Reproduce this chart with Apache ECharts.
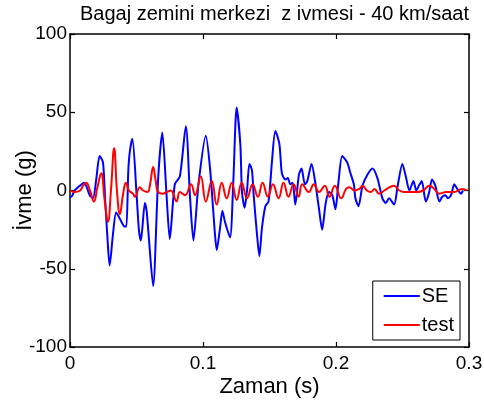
<!DOCTYPE html>
<html>
<head>
<meta charset="utf-8">
<script src="https://cdn.jsdelivr.net/npm/echarts@6/dist/echarts.min.js"></script>
<style>
  html, body { margin: 0; padding: 0; background: #fff; }
  #chart { width: 484px; height: 403px; }
</style>
</head>
<body>
<div id="chart"></div>
<script>
// Trunk-floor centre vertical acceleration, 40 km/h run: simulation (SE) vs. measurement (test)
const seTime = [0, 0.0010, 0.0035, 0.0073, 0.0105, 0.0122, 0.0148, 0.0173, 0.0197, 0.0223,
  0.0248, 0.0265, 0.0280, 0.0298, 0.0323, 0.0347, 0.0375, 0.0411, 0.0424, 0.0438,
  0.0450, 0.0469, 0.0501, 0.0518, 0.0533, 0.0563, 0.0576, 0.0588, 0.0625, 0.0663,
  0.0694, 0.0726, 0.0750, 0.0788, 0.0826, 0.0871, 0.0903, 0.0928, 0.0966, 0.1021,
  0.1053, 0.1090, 0.1103, 0.1128, 0.1146, 0.1165, 0.1203, 0.1228, 0.1253, 0.1281,
  0.1293, 0.1313, 0.1331, 0.1349, 0.1368, 0.1381, 0.1406, 0.1424, 0.1443, 0.1469,
  0.1493, 0.1518, 0.1544, 0.1574, 0.1593, 0.1619, 0.1638, 0.1656, 0.1674, 0.1694,
  0.1721, 0.1741, 0.1766, 0.1784, 0.1816, 0.1846, 0.1871, 0.1896, 0.1921, 0.1946,
  0.1972, 0.1996, 0.2017, 0.2047, 0.2084, 0.2109, 0.2134, 0.2146, 0.2169, 0.2199,
  0.2236, 0.2274, 0.2311, 0.2349, 0.2374, 0.2399, 0.2437, 0.2462, 0.2499, 0.2525,
  0.2552, 0.2582, 0.2604, 0.2623, 0.2645, 0.2675, 0.2698, 0.2722, 0.2747, 0.2777,
  0.2799, 0.2822, 0.2841, 0.2865, 0.2889, 0.2912, 0.2940, 0.2955];
const seValues = [-4, -4, 0, 3, 5, 3, -3, -5, 7, 22,
  18, -7, -28, -48, -28, -14, -18, -23, -23, 12,
  25, 33, -3, -25, -32, -8, -13, -25, -61, 8,
  37, -3, -31, 4, 9, 41, -5, -32, 4, 35,
  14, -28, -38, -24, -13, -20, -30, 6, 53, 29,
  -1, -11, 0, 17, 13, -3, -28, -42, -24, -10,
  -7, 18, 38, 30, 11, 7, 8, 4, 5, -9,
  10, 14, 4, 6, 17, 4, -11, -25, -9, -1,
  -3, -12, 4, 22, 18, 11, 4, -5, -10, 3,
  10, 14, 8, -5, -8, -5, -9, 2, 17, 9,
  0, 6, 0, 3, 6, -7, -2, 7, 3, -7,
  -4, -3, -5, -3, 4, 1, -2, 0];

const testTime = [0, 0.0035, 0.0075, 0.0098, 0.0122, 0.0150, 0.0180, 0.0206, 0.0235, 0.0259,
  0.0285, 0.0308, 0.0332, 0.0353, 0.0375, 0.0398, 0.0420, 0.0443, 0.0473, 0.0488,
  0.0525, 0.0550, 0.0583, 0.0604, 0.0625, 0.0645, 0.0663, 0.0698, 0.0726, 0.0758,
  0.0801, 0.0826, 0.0865, 0.0910, 0.0940, 0.0983, 0.1021, 0.1066, 0.1103, 0.1141,
  0.1178, 0.1216, 0.1253, 0.1291, 0.1331, 0.1373, 0.1413, 0.1448, 0.1488, 0.1526,
  0.1568, 0.1606, 0.1643, 0.1681, 0.1719, 0.1746, 0.1796, 0.1833, 0.1872, 0.1916,
  0.1951, 0.1991, 0.2039, 0.2076, 0.2101, 0.2139, 0.2176, 0.2199, 0.2233, 0.2261,
  0.2289, 0.2324, 0.2364, 0.2401, 0.2437, 0.2476, 0.2514, 0.2567, 0.2611, 0.2656,
  0.2702, 0.2739, 0.2777, 0.2829, 0.2889, 0.2949, 0.2987];
const testValues = [0, -1, 0, 3, 5, 0, -7, 2, 11, -5,
  -20, 0, 27, 0, -15, -3, 5, 0, -2, -4,
  2, 0, -1, 5, 15, 6, -1, -2, -1, 0,
  -7, -1, -3, 4, -3, 9, -7, 6, -9, 5,
  -5, 5, -6, 5, -5, 4, -4, 5, -4, 4,
  -5, 5, -4, 4, -4, 4, -1, 4, -1, 3,
  -4, 3, -5, 1, 2, 0, 1, 3, 0, -1,
  1, -2, 0, 2, 3, 0, -1, -1, -1, 0,
  3, 1, -2, -1, -1, 1, 0];

const xTickLabels = ['0', '0.1', '0.2', '0.3'];
const yTickLabels = ['-100', '-50', '0', '50', '100'];
const seriesNames = ['SE', 'test'];

const FONT = 'Liberation Sans, Arial, sans-serif';
const pairs = (t, v) => t.map((x, i) => [x, v[i]]);

const frameLine = { show: true, onZero: false, lineStyle: { color: '#000', width: 1.5 } };
const innerTick = { show: true, inside: true, length: 5, lineStyle: { color: '#000', width: 1.2 } };

const chart = echarts.init(document.getElementById('chart'), null, { renderer: 'canvas' });
chart.setOption({
  animation: false,
  backgroundColor: '#fff',
  title: {
    text: 'Bagaj zemini merkezi  z ivmesi - 40 km/saat',
    left: 80,
    top: 4,
    padding: 0,
    textStyle: { fontFamily: FONT, fontSize: 20, fontWeight: 'normal', color: '#000' }
  },
  grid: { left: 70, right: 15, top: 34, bottom: 56, containLabel: false, outerBoundsMode: 'none' },
  legend: {
    data: seriesNames,
    orient: 'vertical',
    right: 24,
    top: 281,
    icon: 'rect',
    itemWidth: 36,
    itemHeight: 2,
    itemGap: 9,
    padding: [5, 6, 5, 11],
    borderColor: '#000',
    borderWidth: 1,
    backgroundColor: '#fff',
    textStyle: { fontFamily: FONT, fontSize: 20, color: '#000', padding: [0, 0, 0, -3] }
  },
  xAxis: [
    {
      type: 'value', position: 'bottom', min: 0, max: 0.3, interval: 0.1,
      axisLine: frameLine, axisTick: innerTick, splitLine: { show: false },
      axisLabel: {
        fontFamily: FONT, fontSize: 19, color: '#000', margin: 7,
        formatter: v => xTickLabels[Math.round(v / 0.1)]
      },
      name: 'Zaman (s)', nameLocation: 'middle', nameGap: 29, nameMoveOverlap: false,
      nameTextStyle: { fontFamily: FONT, fontSize: 22, color: '#000' }
    },
    {
      type: 'value', position: 'top', min: 0, max: 0.3, interval: 0.1,
      axisLine: frameLine, axisTick: innerTick, splitLine: { show: false },
      axisLabel: { show: false }
    }
  ],
  yAxis: [
    {
      type: 'value', position: 'left', min: -100, max: 100, interval: 50,
      axisLine: frameLine, axisTick: innerTick, splitLine: { show: false },
      axisLabel: {
        fontFamily: FONT, fontSize: 19, color: '#000', margin: 3,
        formatter: v => yTickLabels[Math.round((v + 100) / 50)]
      },
      name: 'İvme (g)', nameLocation: 'middle', nameGap: 34, nameMoveOverlap: false,
      nameTextStyle: { fontFamily: FONT, fontSize: 22, color: '#000' }
    },
    {
      type: 'value', position: 'right', min: -100, max: 100, interval: 50,
      axisLine: frameLine, axisTick: innerTick, splitLine: { show: false },
      axisLabel: { show: false }
    }
  ],
  series: [
    {
      name: seriesNames[0], type: 'line', data: pairs(seTime, seValues),
      showSymbol: false, symbol: 'none', smooth: 0.25,
      lineStyle: { color: '#0000ff', width: 2 }, itemStyle: { color: '#0000ff' },
      z: 2
    },
    {
      name: seriesNames[1], type: 'line', data: pairs(testTime, testValues),
      showSymbol: false, symbol: 'none', smooth: 0.45,
      lineStyle: { color: '#ff0000', width: 2 }, itemStyle: { color: '#ff0000' },
      z: 3
    }
  ]
});
</script>
</body>
</html>
